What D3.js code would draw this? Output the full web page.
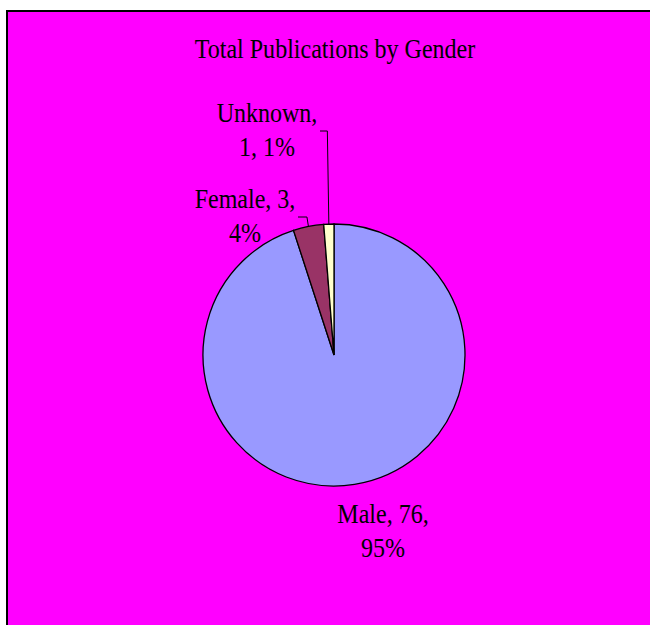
<!DOCTYPE html>
<html>
<head>
<meta charset="utf-8">
<script src="https://cdn.jsdelivr.net/npm/d3@7"></script>
<style>
  html, body { margin: 0; padding: 0; background: #ffffff; }
  svg { display: block; }
  text { font-family: "Liberation Serif", "Times New Roman", serif; fill: #000; }
</style>
</head>
<body>
<svg id="chart" width="650" height="625"></svg>
<script>
// ---- data ----
const title = "Total Publications by Gender";
const categories = ["Male", "Female", "Unknown"];
const values = [76, 3, 1];
const colors = ["#9999FF", "#993366", "#FFFFCC"];

// ---- layout ----
const W = 650, H = 625;
const cx = 334, cy = 355, R = 131;
const fontSize = 27, sx = 0.89, lineH = 34;
// label anchor (centre x, first baseline y) and leader elbow per category
const labelPos = [
  { x: 383, y: 523, leader: null },
  { x: 245, y: 208, leader: { x0: 298, y: 217 } },
  { x: 267, y: 122, leader: { x0: 320, y: 131 } }
];

const svg = d3.select("#chart");

// chart area
svg.append("rect")
  .attr("x", 7).attr("y", 11)
  .attr("width", W).attr("height", H)
  .attr("fill", "#FF00FF")
  .attr("stroke", "#000").attr("stroke-width", 2);

svg.append("g")
  .attr("transform", `translate(335,0) scale(${sx},1)`)
  .append("text")
  .attr("x", 0).attr("y", 58)
  .attr("text-anchor", "middle")
  .attr("font-size", fontSize)
  .text(title);

const data = categories.map((c, i) => ({ cat: c, value: values[i], color: colors[i], idx: i }));
const total = d3.sum(values);

const pie = d3.pie().value(d => d.value).sort(null).startAngle(0).endAngle(2 * Math.PI);
const arcs = pie(data);
const arc = d3.arc().innerRadius(0).outerRadius(R);

const g = svg.append("g").attr("transform", `translate(${cx},${cy})`);
g.selectAll("path.slice")
  .data(arcs)
  .join("path")
  .attr("class", "slice")
  .attr("d", arc)
  .attr("fill", d => d.data.color)
  .attr("stroke", "#000")
  .attr("stroke-width", 1.3);

// leader lines
arcs.forEach((a, i) => {
  const lp = labelPos[i].leader;
  if (!lp) return;
  const mid = (a.startAngle + a.endAngle) / 2;
  const ex = cx + R * Math.sin(mid), ey = cy - R * Math.cos(mid);
  svg.append("path")
    .attr("d", `M${lp.x0},${lp.y}H${ex - 1.5}L${ex},${ey}`)
    .attr("fill", "none")
    .attr("stroke", "#000")
    .attr("stroke-width", 1);
});

// labels with word wrap
const maxW = 115;
const measurer = svg.append("text").attr("font-size", fontSize).attr("visibility", "hidden");
function wrap(str) {
  const words = str.split(" ");
  const lines = [];
  let cur = "";
  words.forEach(w => {
    const test = cur ? cur + " " + w : w;
    measurer.text(test);
    if (cur && measurer.node().getComputedTextLength() * sx > maxW) {
      lines.push(cur); cur = w;
    } else cur = test;
  });
  if (cur) lines.push(cur);
  return lines;
}
arcs.forEach((a, i) => {
  const pct = Math.round(a.data.value / total * 100);
  const lines = wrap(`${a.data.cat}, ${a.data.value}, ${pct}%`);
  const t = svg.append("g")
    .attr("transform", `translate(${labelPos[i].x},0) scale(${sx},1)`)
    .append("text")
    .attr("text-anchor", "middle")
    .attr("font-size", fontSize);
  lines.forEach((ln, k) => {
    t.append("tspan")
      .attr("x", 0)
      .attr("y", labelPos[i].y + k * lineH)
      .text(ln);
  });
});
measurer.remove();
</script>
</body>
</html>
